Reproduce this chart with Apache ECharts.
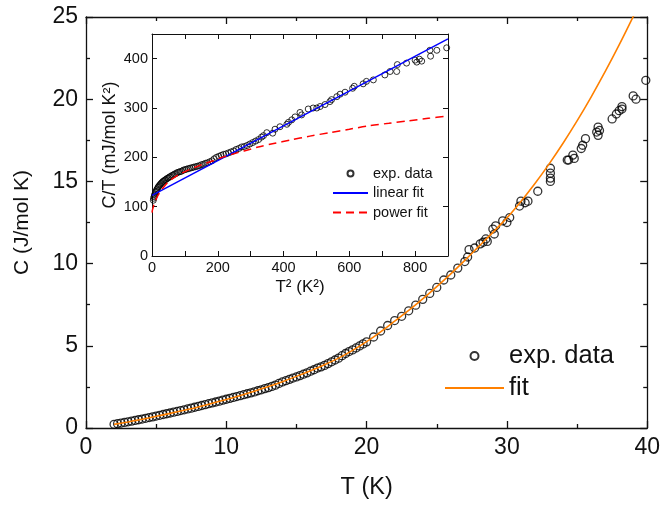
<!DOCTYPE html>
<html><head><meta charset="utf-8">
<script src="https://cdn.jsdelivr.net/npm/echarts@6/dist/echarts.min.js"></script>
<style>html,body{margin:0;padding:0;background:#fff}#c{width:663px;height:505px}</style>
</head><body><div id="c"></div>
<script>
// ---- main panel: C vs T ----
const mainT = [2,2.5,3,3.5,4,4.5,5,5.5,6,6.5,7,7.5,8,8.5,9,9.5,10,10.5,11,11.5,12,12.5,13,13.5,14,14.5,15,15.5,16,16.5,17,17.5,18,18.5,19,19.5,20,20.5,21,21.5,22,22.5,23,23.5,24,24.5,25,25.5,26,26.5,27,
  27.2,27.3,27.7,28.1,28.3,28.5,28.6,29.0,29.1,29.2,29.7,30.0,30.2,30.9,31.0,31.3,31.5,32.2,33.1,33.1,33.1,33.1,34.3,34.4,34.7,34.8,35.3,35.4,35.6,36.4,36.5,36.5,36.6,37.5,37.8,38.0,38.2,38.2,39.0,39.2,39.9,
  2.25,2.75,3.25,3.75,4.25,4.75,5.25,5.75,6.25,6.75,7.25,7.75,8.25,8.75,9.25,9.75,10.25,10.75,11.25,11.75,12.25,12.75,13.25,13.75,14.25,14.75,15.25,15.75,16.25,16.75,17.25,17.75,18.25,18.75,19.25,19.75];
const mainC = [0.226,0.300,0.378,0.459,0.544,0.635,0.725,0.820,0.912,1.008,1.106,1.208,1.312,1.420,1.530,1.634,1.750,1.859,1.969,2.082,2.196,2.325,2.457,2.606,2.800,2.958,3.105,3.271,3.456,3.647,3.808,4.025,4.248,4.533,4.750,4.992,5.240,5.535,5.901,6.235,6.534,6.795,7.130,7.473,7.824,8.183,8.550,9.002,9.308,9.726,10.125,
  10.4,10.85,10.95,11.2,11.3,11.5,11.35,12.1,11.8,12.3,12.6,12.5,12.8,13.5,13.8,13.7,13.8,14.4,15.0,15.2,15.5,15.8,16.3,16.3,16.6,16.4,17.0,17.2,17.6,18.0,17.8,18.3,18.1,18.8,19.1,19.3,19.4,19.55,20.2,20.0,21.15,
  0.263,0.338,0.419,0.502,0.591,0.679,0.772,0.868,0.962,1.060,1.160,1.263,1.369,1.479,1.582,1.696,1.804,1.913,2.025,2.138,2.266,2.397,2.531,2.709,2.879,3.039,3.187,3.355,3.543,3.719,3.916,4.136,4.398,4.650,4.870,5.115];
const fitT = [2,3,4,5,6,7,8,9,10,11,12,13,14,15,16,17,18,19,20,21,22,23,24,25,26,27,28,29,30,31,32,33,34,35,36,37,38,39,39.5];
const fitC = [0.22,0.37,0.53,0.71,0.89,1.08,1.28,1.50,1.73,1.98,2.24,2.52,2.82,3.14,3.48,3.85,4.25,4.72,5.25,5.85,6.50,7.15,7.85,8.60,9.38,10.20,11.05,11.90,12.78,13.78,14.87,16.05,17.32,18.68,20.13,21.67,23.30,25.02,25.92];

// ---- inset: C/T vs T^2 ----
const insetT2 = [4,6.25,9,12.25,16,20.25,25,30.25,36,42.25,49,56.25,64,72.25,81,90.25,100,110.25,121,132.25,144,156.25,169,182.25,196,210.25,225,240.25,256,272.25,289,306.25,324,
  339,349,367,374,389,410,415,425,435,450,455,475,490,501,511,526,541,546,562,572,587,610,615,642,652,673,708,724,744,746,774,800,805,813,820,845,847,866,896,
  5.06,7.56,10.56,14.06,18.06,22.56,27.56,33.06,39.06,45.56,52.56,60.06,68.06,76.56,85.56,95.06,105.06,115.56,126.56,138.06,150.06,162.56,175.56,189.06,203.06,217.56,232.56,248.06,264.06,280.56,297.56,315.06,333.06];
const insetCT = [113,120,126,131,136,141,145,149,152,155,158,161,164,167,170,172,175,177,179,181,183,186,189,193,200,204,207,211,216,221,224,230,236,
  244,250,249,257,262,267,271,276,282,291,286,298,300,300,303,307,313,317,323,328,332,340,344,349,354,357,367,374,374,388,391,397,393,399,395,417,405,417,422,
  117,123,129,134,139,143,147,151,154,157,160,163,166,169,171,174,176,178,180,182,185,188,191,197,202,206,209,213,218,222,227,233,241];
const linT2 = [0,900];
const linCT = [123,440];
const powT2 = [0.3,1,2,4,8,13,19,30,42,55,72,90,110,131,155,181,210,242,280,323,370,420,480,540,600,660,720,780,840,900];
const powCT = [88,92,95,100,108,116,124,135,145,153,161,168,174,180,186,192,199,206,213,221,228,235,243,250,257,264,269,274,279,284];

const mainXTicks = {min:0,max:40,interval:10};
const mainYTicks = {min:0,max:25,interval:5};
const insetXTicks = {min:0,max:900,interval:100,labelStep:200};
const insetYTicks = {min:0,max:450,interval:100};

const zip = (a,b) => a.map((v,i) => [v,b[i]]);
const FONT = "'Liberation Sans', Arial, sans-serif";
const INK = '#111';

function ax(o){
  const big = o.big;
  return Object.assign({
    type:'value', splitLine:{show:false},
    axisLine:{show:true,onZero:false,lineStyle:{color:INK,width:big?1.3:1}},
    axisTick:{show:true,inside:true,length:big?7:5,lineStyle:{color:INK,width:big?1.3:1}},
    axisLabel:{show:!o.mirror,color:INK,fontFamily:FONT,fontSize:big?23:14.5,margin:big?8:4},
    nameTextStyle:{color:INK,fontFamily:FONT,fontSize:big?23:17}
  }, o.opts);
}
const minor = {show:true,splitNumber:2,length:4,lineStyle:{color:INK,width:1.3}};

const option = {
  animation:false,
  backgroundColor:'#fff',
  grid:[
    {left:86,right:15,top:17,bottom:75,containLabel:false},
    {left:152,top:34,width:296,height:222,containLabel:false}
  ],
  xAxis:[
    ax({big:true,opts:Object.assign({gridIndex:0,position:'bottom',name:'T (K)',nameLocation:'middle',nameGap:48,
      nameTextStyle:{color:INK,fontFamily:FONT,fontSize:23.5},minorTick:minor},mainXTicks)}),
    ax({big:true,mirror:true,opts:Object.assign({gridIndex:0,position:'top',minorTick:minor},mainXTicks)}),
    ax({big:false,opts:{gridIndex:1,position:'bottom',min:insetXTicks.min,max:insetXTicks.max,interval:insetXTicks.interval,
      name:'T² (K²)',nameLocation:'middle',nameGap:23,
      axisLabel:{color:INK,fontFamily:FONT,fontSize:14.5,margin:4,formatter:v => (v % insetXTicks.labelStep === 0 ? String(v) : '')}}}),
    ax({big:false,mirror:true,opts:{gridIndex:1,position:'top',min:insetXTicks.min,max:insetXTicks.max,interval:insetXTicks.interval}})
  ],
  yAxis:[
    ax({big:true,opts:Object.assign({gridIndex:0,position:'left',name:'C (J/mol K)',nameLocation:'middle',nameGap:53,
      nameTextStyle:{color:INK,fontFamily:FONT,fontSize:21},minorTick:minor},mainYTicks)}),
    ax({big:true,mirror:true,opts:Object.assign({gridIndex:0,position:'right',minorTick:minor},mainYTicks)}),
    ax({big:false,opts:{gridIndex:1,position:'left',min:insetYTicks.min,max:insetYTicks.max,interval:insetYTicks.interval,
      name:'C/T (mJ/mol K²)',nameLocation:'middle',nameGap:33,
      nameTextStyle:{color:INK,fontFamily:FONT,fontSize:18},
      axisLabel:{color:INK,fontFamily:FONT,fontSize:14.5,margin:4,formatter:v => (v % 100 === 0 ? String(v) : '')}}}),
    ax({big:false,mirror:true,opts:{gridIndex:1,position:'right',min:insetYTicks.min,max:insetYTicks.max,interval:insetYTicks.interval}})
  ],
  legend:[
    {orient:'vertical',left:444,top:343,padding:0,itemWidth:59,itemHeight:8,itemGap:6,
      data:['exp. data',{name:'fit',itemStyle:{opacity:0}}],
      textStyle:{color:INK,fontFamily:FONT,fontSize:25.5},selectedMode:false},
    {orient:'vertical',left:332,top:166,padding:0,itemWidth:35,itemHeight:6,itemGap:4.5,
      data:['exp. data (inset)',{name:'linear fit',itemStyle:{opacity:0}},{name:'power fit',itemStyle:{opacity:0}}],
      formatter:n => n.replace(' (inset)',''),
      textStyle:{color:INK,fontFamily:FONT,fontSize:14.5},selectedMode:false}
  ],
  series:[
    {name:'exp. data',type:'scatter',xAxisIndex:0,yAxisIndex:0,data:zip(mainT,mainC),
      symbol:'circle',symbolSize:8,itemStyle:{color:'rgba(255,255,255,0)',borderColor:'#000',borderWidth:1.3},z:2},
    {name:'fit',type:'line',xAxisIndex:0,yAxisIndex:0,data:zip(fitT,fitC),smooth:0.3,
      symbol:'none',showSymbol:false,lineStyle:{color:'#ff8000',width:1.6},itemStyle:{color:'#ff8000'},z:3},
    {name:'exp. data (inset)',type:'scatter',xAxisIndex:2,yAxisIndex:2,data:zip(insetT2,insetCT),
      symbol:'circle',symbolSize:6,itemStyle:{color:'rgba(255,255,255,0)',borderColor:'#000',borderWidth:1},z:2},
    {name:'linear fit',type:'line',xAxisIndex:2,yAxisIndex:2,data:zip(linT2,linCT),
      symbol:'none',showSymbol:false,lineStyle:{color:'#0000ff',width:1.5},itemStyle:{color:'#0000ff'},z:3},
    {name:'power fit',type:'line',xAxisIndex:2,yAxisIndex:2,data:zip(powT2,powCT),smooth:0.3,
      symbol:'none',showSymbol:false,lineStyle:{color:'#ff0000',width:1.5,type:[8,5]},itemStyle:{color:'#ff0000'},z:3}
  ]
};
const chart = echarts.init(document.getElementById('c'),null,{renderer:'canvas'});
chart.setOption(option);
</script></body></html>
